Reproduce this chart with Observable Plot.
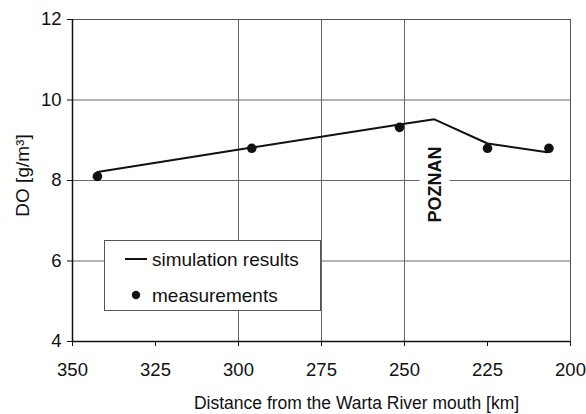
<!DOCTYPE html>
<html>
<head>
<meta charset="utf-8">
<script src="https://cdn.jsdelivr.net/npm/d3@7"></script>
<script src="https://cdn.jsdelivr.net/npm/@observablehq/plot@0.6"></script>
<style>
  html, body { margin: 0; padding: 0; background: #fff; }
  #chart svg { display: block; }
</style>
</head>
<body>
<div id="chart"></div>
<script>
// Simulation results (distance km, DO g/m3)
const simDist = [342.5, 296, 251.5, 241, 225, 207];
const simDO   = [8.21, 8.82, 9.39, 9.52, 8.92, 8.70];

// Measurements
const measDist = [342.5, 296, 251.5, 225, 206.5];
const measDO   = [8.1, 8.8, 9.32, 8.8, 8.8];

// Axis ticks and gridlines
const xTicks = [350, 325, 300, 275, 250, 225, 200];
const yTicks = [4, 6, 8, 10, 12];
const gridX = [300, 275, 250];
const gridY = [6, 8, 10];

// Annotation
const annotText = ["POZNAN"];
const annotX = [240.7];
const annotY = [7.9];

const xLabel = "Distance from the Warta River mouth [km]";
const yLabel = "DO [g/m³]";
const legendLabels = ["simulation results", "measurements"];

const sim = simDist.map((d, i) => ({x: d, y: simDO[i]}));
const meas = measDist.map((d, i) => ({x: d, y: measDO[i]}));
const annot = annotText.map((t, i) => ({t, x: annotX[i], y: annotY[i]}));

const font = "'Liberation Sans', Arial, Helvetica, sans-serif";

const svg = Plot.plot({
  width: 586,
  height: 414,
  marginLeft: 72,
  marginRight: 16,
  marginTop: 19,
  marginBottom: 73,
  style: {fontFamily: font, background: "#fff", color: "#111", overflow: "visible"},
  x: {domain: [350, 200]},
  y: {domain: [4, 12]},
  marks: [
    Plot.ruleX(gridX, {stroke: "#666", strokeWidth: 1}),
    Plot.ruleY(gridY, {stroke: "#666", strokeWidth: 1}),
    Plot.frame({stroke: "#555", strokeWidth: 1}),
    Plot.text(annot, {x: "x", y: "y", text: "t", rotate: -90, fontSize: 18, fontWeight: "bold",
      fill: "#111", stroke: "white", strokeWidth: 17, textAnchor: "middle", lineAnchor: "middle"}),
    Plot.ruleX([350], {stroke: "#111", strokeWidth: 1.5}),
    Plot.ruleY([4], {stroke: "#111", strokeWidth: 1.5}),
    Plot.axisX({ticks: xTicks, tickSize: 5, tickPadding: 16, fontSize: 18.5, label: null, stroke: "#111"}),
    Plot.axisY({ticks: yTicks, tickSize: 5, tickPadding: 6, fontSize: 18.5, label: null, stroke: "#111"}),
    Plot.line(sim, {x: "x", y: "y", stroke: "#111", strokeWidth: 2}),
    Plot.dot(meas, {x: "x", y: "y", r: 4.8, fill: "#111", stroke: "none"}),
    Plot.text([xLabel], {frameAnchor: "bottom", dy: 62, dx: 35, fontSize: 17.5, fill: "#111",
      textAnchor: "middle", lineAnchor: "middle"}),
    Plot.text([yLabel], {frameAnchor: "left", dx: -50, dy: -5, rotate: -90, fontSize: 19, fill: "#111",
      textAnchor: "middle", lineAnchor: "middle"})
  ]
});

// Legend drawn inside the plot area
const s = d3.select(svg);
const g = s.append("g").attr("font-family", font).attr("font-size", 19).attr("fill", "#111")
  .attr("text-anchor", "start");
g.append("rect").attr("x", 104.5).attr("y", 240.5).attr("width", 216).attr("height", 70)
  .attr("fill", "#fff").attr("stroke", "#555").attr("stroke-width", 1);
g.append("line").attr("x1", 125).attr("x2", 147).attr("y1", 259).attr("y2", 259)
  .attr("stroke", "#111").attr("stroke-width", 2);
g.append("text").attr("x", 152).attr("y", 259).attr("dy", "0.35em").attr("text-anchor", "start").text(legendLabels[0]);
g.append("circle").attr("cx", 136).attr("cy", 295).attr("r", 4.2).attr("fill", "#111");
g.append("text").attr("x", 152).attr("y", 295).attr("dy", "0.35em").attr("text-anchor", "start").text(legendLabels[1]);

document.getElementById("chart").appendChild(svg);
</script>
</body>
</html>
